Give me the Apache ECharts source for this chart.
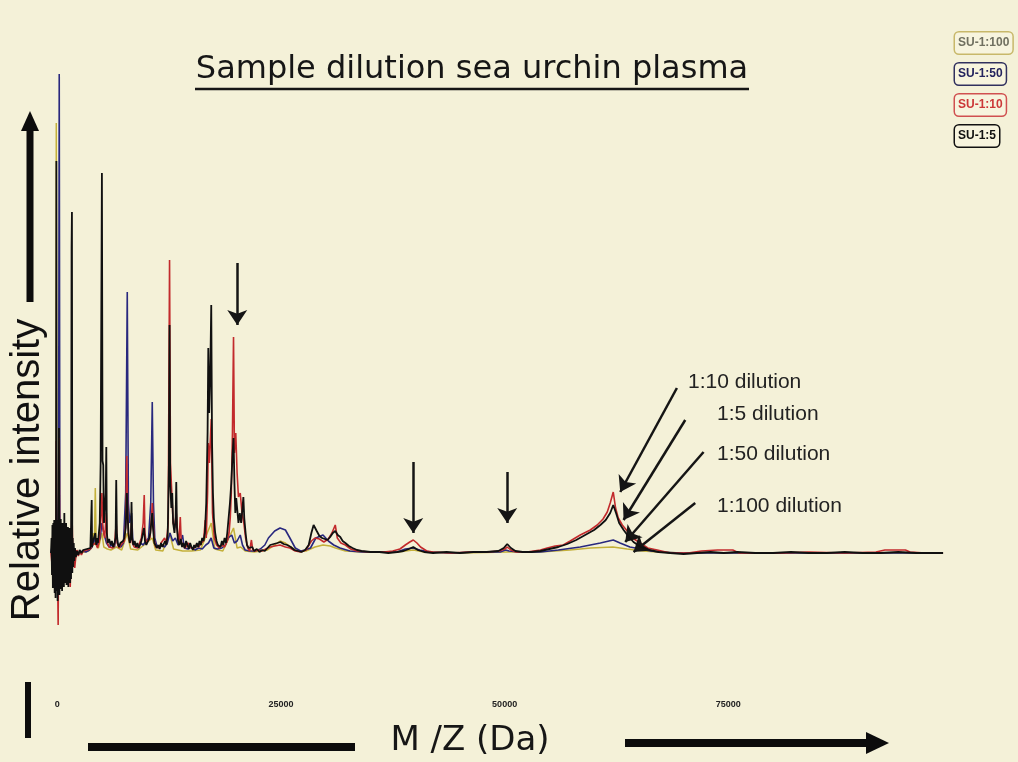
<!DOCTYPE html>
<html>
<head>
<meta charset="utf-8">
<script src="https://cdn.jsdelivr.net/npm/echarts@6/dist/echarts.min.js"></script>
<style>
html,body{margin:0;padding:0;background:#f4f1d8;}
#chart{width:1018px;height:762px;}
</style>
</head>
<body>
<div id="chart"></div>
<script>
// ---- Data (m/z in Da, relative intensity in arbitrary units) ----
const seriesNames = ['SU-1:100', 'SU-1:50', 'SU-1:10', 'SU-1:5'];
const xTickLabels = [0, 25000, 50000, 75000];

const su1to100 = [[-700,0],[-500,6],[-350,-8],[-200,10],[-150,40],[-110,430],[-70,30],[0,-10],[150,12],[300,-8],[500,8],[700,-6],[1000,5],[1300,-4],[1600,4],[2000,1],[2500,0],[3000,1],[3500,2],[3900,6],[4020,20],[4150,8],[4250,65],[4350,8],[4600,5],[4990,20],[5200,6],[5600,4],[6000,3],[6600,6],[7200,3],[7823,20],[8200,4],[9000,3],[9700,8],[10617,15],[11000,3],[11800,2],[12550,20],[13000,4],[14000,2],[15000,2],[16000,3],[17210,30],[17600,4],[18500,2],[19700,25],[20100,5],[20500,6],[21000,2],[22000,1],[23500,3],[24300,8],[24900,12],[25500,10],[26100,6],[26800,2],[27800,2],[28800,6],[29700,8],[30500,7],[31100,5],[32200,2],[34000,1],[38000,1],[39800,3],[41000,1],[45000,0],[50300,1],[54000,1],[57300,3],[59600,5],[62100,6],[63700,4],[65500,2],[67000,1],[70000,0],[80000,0],[90000,0],[99000,0]];

const su1to50 = [[-700,0],[-550,8],[-400,-12],[-250,10],[-100,-15],[50,20],[150,60],[220,479],[290,40],[400,-10],[550,12],[700,-8],[900,10],[1100,-8],[1300,8],[1500,-6],[1700,6],[1900,-3],[2100,2],[2400,-1],[2800,2],[3200,1],[3600,3],[3900,6],[4250,15],[4500,8],[4800,15],[4990,30],[5200,20],[5500,10],[5800,6],[6100,8],[6400,6],[6590,20],[6800,8],[7100,6],[7400,10],[7650,60],[7823,261],[7950,50],[8100,30],[8300,40],[8450,12],[8700,8],[9000,6],[9300,10],[9600,8],[9900,12],[10200,15],[10450,50],[10617,151],[10750,50],[10900,15],[11100,8],[11400,6],[11700,8],[12000,6],[12300,10],[12600,20],[12900,12],[13200,15],[13500,8],[13800,12],[14000,18],[14200,5],[14600,4],[15000,6],[15400,3],[15800,5],[16200,4],[16600,8],[16900,10],[17200,15],[17500,5],[17900,4],[18400,5],[18800,8],[19100,15],[19500,18],[19800,10],[20100,12],[20450,18],[20700,8],[21000,3],[21500,2],[22100,2],[22700,4],[23200,8],[23600,15],[24300,22],[24900,25],[25500,23],[26000,15],[26600,5],[27200,2],[27700,3],[28300,5],[28900,15],[29700,18],[30300,12],[30900,8],[31600,5],[32700,2],[34000,1],[36000,1],[38000,1],[38900,4],[39790,5],[40500,3],[41700,1],[44000,0],[47000,1],[49500,1],[50100,3],[50500,2],[51500,1],[54000,1],[56000,3],[58450,6],[60700,10],[62140,13],[62900,10],[64000,6],[65200,4],[66300,2],[67400,1],[69600,0],[75000,0],[80000,0],[85000,0],[90000,0],[99000,0]];

const su1to10 = [[-700,0],[-600,-10],[-500,18],[-400,-15],[-300,20],[-220,-25],[-160,30],[-120,112],[-60,-20],[0,25],[60,-40],[100,-72],[150,20],[220,115],[280,-25],[350,22],[450,-30],[550,18],[650,-25],[750,20],[850,-20],[950,15],[1050,-18],[1150,12],[1250,-20],[1350,10],[1450,-34],[1550,12],[1650,40],[1750,-12],[1850,-8],[1950,-15],[2050,-6],[2200,3],[2350,-3],[2500,2],[2700,-2],[2900,2],[3100,0],[3300,3],[3500,1],[3700,4],[3900,8],[4100,6],[4300,10],[4500,5],[4700,12],[4900,40],[4990,60],[5100,25],[5300,15],[5480,40],[5600,10],[5800,6],[6000,8],[6200,5],[6400,8],[6590,30],[6700,10],[6900,5],[7100,8],[7300,6],[7500,12],[7650,30],[7770,97],[7880,35],[8000,15],[8150,10],[8300,30],[8400,10],[8600,6],[8800,8],[9000,5],[9200,10],[9400,15],[9600,30],[9720,58],[9800,20],[9950,10],[10150,8],[10350,15],[10500,30],[10620,50],[10720,30],[10850,12],[11000,6],[11200,8],[11400,5],[11600,10],[11800,8],[12000,15],[12200,10],[12400,30],[12550,293],[12650,90],[12800,60],[12950,30],[13100,25],[13300,40],[13450,20],[13600,10],[13750,36],[13850,12],[14000,8],[14300,5],[14600,10],[14900,6],[15200,4],[15500,8],[15800,6],[16100,10],[16350,12],[16540,33],[16650,15],[16800,60],[16880,110],[17000,90],[17210,134],[17350,40],[17550,15],[17800,8],[18100,5],[18400,8],[18700,6],[19000,12],[19200,20],[19334,35],[19450,60],[19580,120],[19700,216],[19800,100],[19950,120],[20100,80],[20250,56],[20450,60],[20650,40],[20850,30],[21050,15],[21300,5],[21500,2],[21700,13],[21850,3],[22100,2],[22500,3],[22900,2],[23300,4],[23800,6],[24300,7],[24900,8],[25500,6],[26000,5],[26600,2],[27200,1],[27800,3],[28400,12],[28800,15],[29300,14],[29800,11],[30300,14],[30700,20],[31070,28],[31300,15],[31700,10],[32200,8],[32800,4],[33500,2],[35000,1],[36500,1],[37500,2],[38300,4],[38900,8],[39400,11],[39790,13],[40200,10],[40600,6],[41300,2],[42000,1],[44000,0],[46000,1],[48000,1],[49400,2],[50000,4],[50290,6],[50700,3],[51300,1],[52500,1],[54000,3],[54760,5],[55650,7],[56550,8],[57330,12],[58450,18],[59570,23],[60350,28],[61000,34],[61470,41],[61800,50],[62140,61],[62400,45],[62700,35],[63150,28],[63700,22],[64300,15],[65150,10],[66000,5],[67050,3],[68500,0],[70500,0],[72000,2],[73800,3],[75500,3],[76200,0],[78500,0],[81000,0],[84000,1],[88000,0],[91500,1],[92500,3],[94800,3],[95300,1],[97000,0],[99000,0]];

const su1to5 = [[-700,0],[-640,15],[-590,-22],[-540,28],[-490,-35],[-440,30],[-390,-28],[-340,33],[-290,-40],[-240,30],[-190,-45],[-140,35],[-100,392],[-60,-38],[-10,30],[40,-48],[90,33],[140,-40],[190,125],[240,-42],[290,30],[340,-36],[390,34],[440,-30],[490,28],[540,-38],[590,30],[640,-28],[690,26],[740,-34],[790,40],[840,-30],[890,28],[940,-25],[990,30],[1040,-32],[1090,24],[1140,-28],[1190,26],[1240,-34],[1290,22],[1340,-26],[1390,25],[1440,-30],[1490,20],[1540,-26],[1600,306],[1640,341],[1680,-20],[1730,15],[1780,-14],[1840,10],[1900,-8],[1980,5],[2080,-4],[2200,2],[2350,-2],[2500,3],[2700,0],[2900,3],[3100,1],[3300,4],[3500,2],[3700,5],[3800,4],[3850,53],[3890,6],[3950,10],[4050,8],[4150,12],[4250,20],[4350,8],[4450,15],[4550,10],[4650,20],[4750,30],[4850,91],[4990,380],[5060,92],[5140,88],[5220,30],[5300,40],[5420,60],[5480,106],[5540,20],[5650,10],[5800,14],[5950,8],[6100,12],[6250,6],[6400,10],[6520,15],[6590,73],[6660,20],[6750,10],[6900,6],[7050,10],[7200,8],[7350,12],[7500,15],[7650,25],[7780,60],[7860,40],[7950,20],[8100,10],[8230,15],[8300,51],[8370,15],[8500,8],[8650,12],[8800,6],[8950,10],[9100,5],[9250,8],[9400,12],[9550,10],[9700,25],[9800,12],[9950,8],[10100,10],[10250,14],[10400,20],[10550,35],[10620,40],[10700,25],[10850,10],[11000,8],[11150,5],[11300,8],[11450,4],[11600,10],[11750,6],[11900,9],[12050,12],[12200,8],[12350,20],[12480,90],[12550,228],[12620,70],[12750,45],[12850,60],[12950,30],[13100,20],[13230,35],[13300,71],[13380,25],[13500,12],[13650,8],[13800,14],[13950,6],[14100,10],[14250,5],[14400,12],[14550,8],[14700,4],[14850,10],[15000,6],[15150,3],[15300,8],[15450,5],[15600,10],[15750,6],[15900,12],[16050,8],[16200,15],[16350,12],[16500,20],[16650,50],[16800,120],[16880,205],[16980,140],[17100,180],[17210,248],[17300,110],[17400,60],[17500,35],[17650,20],[17800,12],[17950,8],[18100,10],[18250,6],[18400,12],[18550,8],[18700,15],[18850,10],[19000,20],[19150,35],[19300,50],[19450,70],[19600,100],[19700,115],[19800,70],[19900,40],[20000,55],[20100,45],[20250,30],[20400,40],[20550,30],[20700,45],[20800,56],[20900,35],[21050,20],[21200,8],[21400,5],[21600,3],[21800,6],[22000,2],[22300,4],[22600,1],[22900,3],[23200,2],[23500,5],[23800,8],[24200,9],[24600,10],[24950,11],[25300,9],[25700,8],[26100,6],[26500,3],[26900,2],[27300,1],[27700,3],[28100,8],[28400,20],[28650,28],[28830,30],[29000,22],[29300,17],[29600,15],[29900,14],[30200,13],[30500,16],[30800,20],[31070,22],[31350,18],[31630,16],[31900,12],[32200,10],[32600,7],[33000,5],[33500,3],[34000,2],[35000,1],[36000,1],[37000,0],[38000,1],[38700,2],[39300,4],[39790,6],[40300,3],[41000,1],[42000,0],[43500,1],[45000,0],[46500,1],[48000,1],[49300,2],[49900,5],[50290,9],[50700,5],[51200,2],[52000,1],[53000,1],[54000,2],[55000,4],[56000,6],[57000,9],[58000,13],[59000,18],[60000,23],[60700,28],[61300,33],[61800,40],[62140,48],[62450,40],[62800,30],[63300,23],[63800,17],[64400,11],[65200,6],[66200,3],[67200,1],[68500,0],[70000,-1],[71500,0],[73000,1],[74500,0],[76000,1],[78000,0],[80000,0],[82000,1],[84000,0],[86000,0],[88000,1],[90000,0],[92000,0],[94000,1],[96000,0],[99000,0]];

// Annotation arrows: [start m/z, start intensity, end m/z, end intensity]
const arrowsPeaks = [[20117,290,20117,228],[39787,91,39787,20],[50292,81,50292,30]];
const arrowsDilution = [[69253,165,62921,61],[70185,133,63294,33],[72233,101,63480,11],[71302,50,64410,1]];
const dilutionLabels = ['1:10 dilution', '1:5 dilution', '1:50 dilution', '1:100 dilution'];

// ---- Chart ----
const colors = ['#c4b03a', '#28287e', '#c22a2c', '#101010'];
const lineWidths = [1.5, 1.6, 1.6, 1.8];
const legendText = ['#707060', '#23235e', '#cc3838', '#111111'];
const legendBorder = ['#c8b86a', '#30305e', '#d05050', '#111111'];
const chart = echarts.init(document.getElementById('chart'), null, {renderer: 'canvas'});

const allArrows = arrowsPeaks.concat(arrowsDilution).map(a => [
  {coord: [a[0], a[1]]}, {coord: [a[2], a[3]]}
]);

const dataSets = [su1to100, su1to50, su1to10, su1to5];
const series = dataSets.map((d, i) => ({
  name: seriesNames[i],
  type: 'line',
  data: d,
  showSymbol: false,
  symbol: 'none',
  lineStyle: {color: colors[i], width: lineWidths[i]},
  itemStyle: {color: colors[i]},
  silent: true,
  z: 2 + i
}));
series[3].markLine = {
  silent: true,
  symbol: ['none', 'arrow'],
  symbolSize: 15,
  label: {show: false},
  lineStyle: {color: '#151515', width: 2.5, type: 'solid'},
  itemStyle: {color: '#151515'},
  emphasis: {disabled: true},
  data: allArrows
};

const dilTextPos = [[688, 382], [717, 414], [717, 454], [717, 506]];
const graphics = [
  {type: 'text', x: 472, y: 70, style: {text: 'Sample dilution sea urchin plasma', font: '32px "DejaVu Sans"', fill: '#161616', align: 'center', verticalAlign: 'middle'}},
  {type: 'line', shape: {x1: 195, y1: 89, x2: 749, y2: 89}, style: {stroke: '#161616', lineWidth: 2.5}},
  {type: 'text', x: 28, y: 470, rotation: Math.PI / 2, style: {text: 'Relative intensity', font: '40px "Liberation Sans"', fill: '#111', align: 'center', verticalAlign: 'middle'}},
  {type: 'rect', shape: {x: 26.5, y: 126, width: 7, height: 176}, style: {fill: '#0c0c0c'}},
  {type: 'polygon', shape: {points: [[21, 131], [39, 131], [30, 111]]}, style: {fill: '#0c0c0c'}},
  {type: 'rect', shape: {x: 25, y: 682, width: 6, height: 56}, style: {fill: '#0c0c0c'}},
  {type: 'rect', shape: {x: 88, y: 743, width: 267, height: 8}, style: {fill: '#0c0c0c'}},
  {type: 'text', x: 470, y: 741, style: {text: 'M /Z (Da)', font: '34px "DejaVu Sans"', fill: '#161616', align: 'center', verticalAlign: 'middle'}},
  {type: 'rect', shape: {x: 625, y: 739, width: 244, height: 8}, style: {fill: '#0c0c0c'}},
  {type: 'polygon', shape: {points: [[866, 732], [866, 754], [889, 743]]}, style: {fill: '#0c0c0c'}}
].concat(dilutionLabels.map((t, i) => ({
  type: 'text', x: dilTextPos[i][0], y: dilTextPos[i][1],
  style: {text: t, font: '21px "Liberation Sans"', fill: '#222', align: 'left', verticalAlign: 'middle'}
})));

chart.setOption({
  animation: false,
  backgroundColor: '#f4f1d8',
  textStyle: {fontFamily: '"Liberation Sans", Arial, sans-serif'},
  grid: {left: 51, right: 66, top: 63, bottom: 69, containLabel: false},
  legend: {
    orient: 'vertical', left: 945, top: 26, itemGap: 7,
    itemWidth: 0, itemHeight: 0, icon: 'none', selectedMode: false,
    data: seriesNames.map((n, i) => ({
      name: n, icon: 'none',
      textStyle: {
        color: legendText[i], fontSize: 12, fontWeight: 'bold', fontFamily: '"Liberation Sans Narrow", "Liberation Sans", sans-serif',
        borderColor: legendBorder[i], borderWidth: 1.5, borderRadius: 4,
        padding: [5, 3, 4, 3], backgroundColor: '#f7f4de'
      }
    }))
  },
  xAxis: {
    type: 'value', min: -700, max: 100000,
    axisLine: {show: false}, axisTick: {show: false}, splitLine: {show: false},
    axisLabel: {
      customValues: xTickLabels,
      formatter: v => String(v),
      fontSize: 9, color: '#222', margin: 7, fontWeight: 'bold',
      fontFamily: '"Liberation Sans Narrow", "Liberation Sans", sans-serif'
    }
  },
  yAxis: {
    type: 'value', min: -140, max: 490,
    show: false, splitLine: {show: false}
  },
  series: series,
  graphic: graphics
});
</script>
</body>
</html>
